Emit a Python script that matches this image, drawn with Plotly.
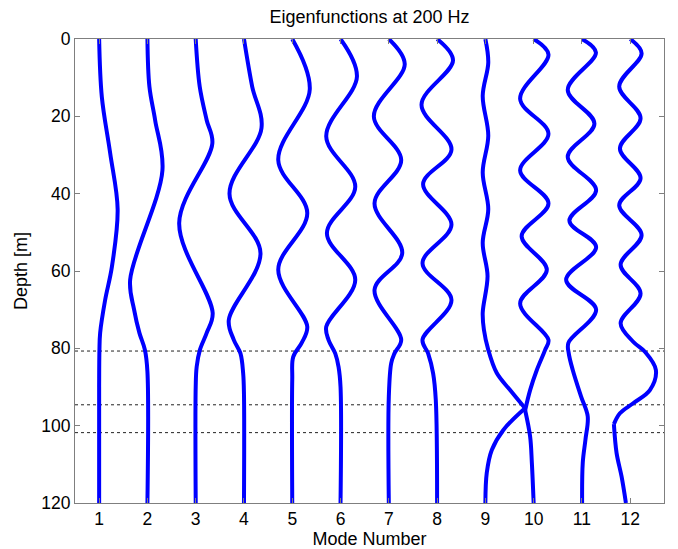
import plotly.graph_objects as go

# Normal-mode eigenfunctions at 200 Hz, each offset to its mode number.
modes = list(range(1, 13))

# Depth samples (m) and horizontal displacement (mode-number units) of each eigenfunction:
# surface value, turning points, and the decay into the bottom layers
depth_1 = [0, 15, 29.5, 44, 59, 67.5, 76, 80.5, 90, 120]
disp_1 = [0, 0.056, 0.228, 0.383, 0.263, 0.124, 0.021, 0.006, 0, 0]

depth_2 = [0, 12.3, 21, 34, 62.3, 70, 76, 80.4, 86, 120]
disp_2 = [0, 0.041, 0.16, 0.311, -0.358, -0.276, -0.166, -0.052, 0, 0]

depth_3 = [0, 12.3, 21, 27, 47.6, 70.9, 76, 80.4, 84.8, 90, 120]
disp_3 = [0, 0.083, 0.228, 0.345, -0.342, 0.352, 0.228, 0.087, 0.02, 0, 0]

depth_4 = [0, 12.3, 23, 40, 55.4, 72.7, 77.8, 81.3, 86.4, 92, 120]
disp_4 = [0, 0.17, 0.363, -0.30, 0.342, -0.315, -0.211, -0.073, -0.017, 0, 0]

depth_5 = [0, 13, 31.3, 45, 59.7, 74.4, 78.6, 82.2, 88, 120]
disp_5 = [0, 0.363, -0.29, 0.311, -0.29, 0.311, 0.195, 0.02, 0, 0]

depth_6 = [0, 9.7, 25.2, 38.2, 50.2, 62.3, 74.4, 77.8, 81.3, 84.8, 90, 120]
disp_6 = [0, 0.34, -0.296, 0.305, -0.282, 0.305, -0.296, -0.249, -0.11, -0.041, 0, 0]

depth_7 = [0, 6.5, 20, 31.3, 42.5, 55.4, 64.9, 77.8, 81.3, 83.8, 92.5, 120]
disp_7 = [0, 0.33, -0.31, 0.257, -0.296, 0.278, -0.296, 0.257, 0.118, 0.05, 0, 0]

depth_8 = [0, 5.5, 17, 28.6, 37.5, 48, 58, 67.5, 77.8, 81.3, 86.4, 93.4, 120]
disp_8 = [0, 0.33, -0.323, 0.298, -0.29, 0.298, -0.302, 0.298, -0.302, -0.186, -0.083, -0.027, 0]

depth_9 = [0, 6.1, 14.7, 25, 34.5, 44, 52.7, 61.3, 70.8, 75.2, 80.4, 86.4, 90.8, 95.5, 101.1, 106.3, 112.2, 120]
disp_9 = [0, 0.06, -0.055, 0.06, -0.055, 0.06, -0.055, 0.045, -0.055, -0.03, 0.06, 0.236, 0.512, 0.822, 0.373, 0.133, 0.029, 0]

depth_10 = [0, 4, 15.5, 24.5, 34, 42.5, 51, 59.7, 68.4, 77.8, 80.4, 85.6, 90.8, 96, 102.8, 109.6, 120]
disp_10 = [0, 0.307, -0.28, 0.307, -0.28, 0.307, -0.249, 0.273, -0.28, 0.307, 0.238, 0.066, -0.073, -0.176, -0.073, -0.037, 0]

depth_11 = [0, 3.5, 13.2, 21.9, 30.5, 39.1, 47, 53.8, 62.3, 70, 78.6, 81.3, 85.6, 92.5, 97.6, 103.6, 109.6, 120]
disp_11 = [0, 0.29, -0.294, 0.259, -0.294, 0.294, -0.259, 0.294, -0.327, 0.294, -0.28, -0.273, -0.19, -0.017, 0.12, 0.073, 0.017, 0.004]

depth_12 = [0, 3.7, 12.3, 20.5, 28.3, 36, 43, 50.7, 58.4, 65.8, 73.5, 78.3, 80.9, 85.6, 90.8, 94.2, 96.8, 99.6, 107.1, 113.2, 120]
disp_12 = [0, 0.236, -0.228, 0.215, -0.213, 0.215, -0.228, 0.236, -0.199, 0.215, -0.199, 0.062, 0.305, 0.532, 0.408, 0.062, -0.213, -0.338, -0.282, -0.178, -0.089]

depths = [depth_1, depth_2, depth_3, depth_4, depth_5, depth_6,
          depth_7, depth_8, depth_9, depth_10, depth_11, depth_12]
disps = [disp_1, disp_2, disp_3, disp_4, disp_5, disp_6,
         disp_7, disp_8, disp_9, disp_10, disp_11, disp_12]

# Layer interfaces in the bottom (m)
interfaces = [80.7, 94.6, 101.8]

# Depths where an eigenfunction's slope breaks at a layer boundary
kinks = {9: 95.5, 10: 96.0, 12: 99.6}

x_ticks = modes
y_ticks = [0, 20, 40, 60, 80, 100, 120]

FONT = "Liberation Sans, Arial, sans-serif"

fig = go.Figure()

for n, z, d in zip(modes, depths, disps):
    x = [n + v for v in d]
    y = list(z)
    if n in kinks:
        i = z.index(kinks[n])
        x = x[:i + 1] + [None] + x[i:]
        y = y[:i + 1] + [None] + y[i:]
    fig.add_trace(go.Scatter(
        x=x, y=y, mode="lines",
        line=dict(color="#0000FF", width=4, shape="spline", smoothing=1.0),
        showlegend=False, hoverinfo="skip",
    ))

for depth in interfaces:
    fig.add_shape(type="line", xref="paper", x0=0, x1=1, yref="y", y0=depth, y1=depth,
                  line=dict(color="#222222", width=1, dash="dot"), layer="below")

axis_common = dict(
    showline=True, linecolor="#7f7f7f", linewidth=1, mirror="ticks",
    ticks="inside", ticklen=5, tickcolor="#7f7f7f", tickwidth=1,
    showgrid=False, zeroline=False, automargin=False,
    tickfont=dict(family=FONT, size=17.5, color="#000000"),
)

fig.update_layout(
    width=678, height=549,
    margin=dict(l=75, r=14, t=39, b=46),
    paper_bgcolor="white", plot_bgcolor="white",
    font=dict(family=FONT, size=18, color="#000000"),
    title=dict(text="Eigenfunctions at 200 Hz", x=0.5, xref="paper", xanchor="center",
               y=1 - 17 / 549, yanchor="middle",
               font=dict(family=FONT, size=18)),
    xaxis=dict(range=[0.5, 12.7], tickvals=x_ticks,
               title=dict(text="Mode Number", standoff=11, font=dict(family=FONT, size=18)),
               **axis_common),
    yaxis=dict(range=[120, 0], tickvals=y_ticks,
               title=dict(text="Depth [m]", standoff=8, font=dict(family=FONT, size=18)),
               **axis_common),
)

fig.write_html("out.html")
